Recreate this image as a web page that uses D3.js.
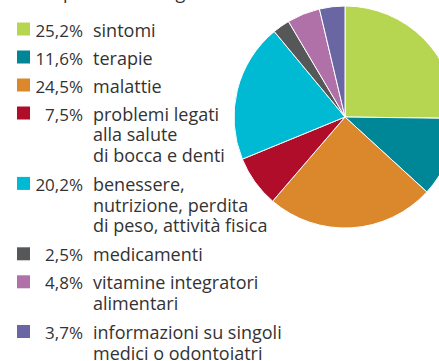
<!DOCTYPE html>
<html>
<head>
<meta charset="utf-8">
<script src="https://cdn.jsdelivr.net/npm/d3@7"></script>
<style>
  html, body { margin: 0; padding: 0; background: #fff; }
  svg { display: block; }
  text { font-family: "Open Sans", "Noto Sans", sans-serif; fill: #333; }
</style>
</head>
<body>
<svg id="chart" width="439" height="361"></svg>
<script>
// Share of online health searches by topic (%)
const categories = [
  "sintomi",
  "terapie",
  "malattie",
  "problemi legati|alla salute|di bocca e denti",
  "benessere,|nutrizione, perdita|di peso, attività fisica",
  "medicamenti",
  "vitamine integratori|alimentari",
  "informazioni su singoli|medici o odontoiatri"
];
const values = [25.2, 11.6, 24.5, 7.5, 20.2, 2.5, 4.8, 3.7];
const valueLabels = ["25,2%", "11,6%", "24,5%", "7,5%", "20,2%", "2,5%", "4,8%", "3,7%"];
const colors = ["#b6d550", "#008797", "#db872b", "#b00d2b", "#00b9d3", "#555759", "#b070a8", "#6a65a3"];
const title = "Temi più cercati dagli utenti";

const svg = d3.select("#chart");
const data = categories.map((c, i) => ({ label: c.split("|"), value: values[i], text: valueLabels[i], color: colors[i] }));
const fontSize = 18;

// Title (runs off the top edge)
svg.append("text")
  .attr("x", 17).attr("y", -1)
  .attr("font-size", fontSize)
  .text(title);

// Pie
const cx = 345, cy = 117, r = 111;
const pie = d3.pie().value(d => d.value).sort(null);
const arc = d3.arc().innerRadius(0).outerRadius(r);
svg.append("g")
  .attr("transform", `translate(${cx},${cy})`)
  .selectAll("path")
  .data(pie(data))
  .join("path")
  .attr("d", arc)
  .attr("fill", d => d.data.color)
  .attr("stroke", "#fff")
  .attr("stroke-width", 1)
  .attr("stroke-linejoin", "round");

// Legend
const rowGap = 28, lineGap = 20.7;
let y = 36.5;
const legend = svg.append("g");
data.forEach(d => {
  const g = legend.append("g");
  g.append("rect")
    .attr("x", 17).attr("y", y - 14)
    .attr("width", 13).attr("height", 13)
    .attr("fill", d.color);
  g.append("text")
    .attr("x", 83).attr("y", y)
    .attr("text-anchor", "end")
    .attr("font-size", 17)
    .text(d.text);
  const t = g.append("text")
    .attr("x", 93).attr("y", y)
    .attr("font-size", fontSize);
  d.label.forEach((line, i) => {
    t.append("tspan").attr("x", 93).attr("y", y + i * lineGap).text(line);
  });
  y += rowGap + (d.label.length - 1) * lineGap + (d.label.length > 1 ? 1 : 0);
});
</script>
</body>
</html>
